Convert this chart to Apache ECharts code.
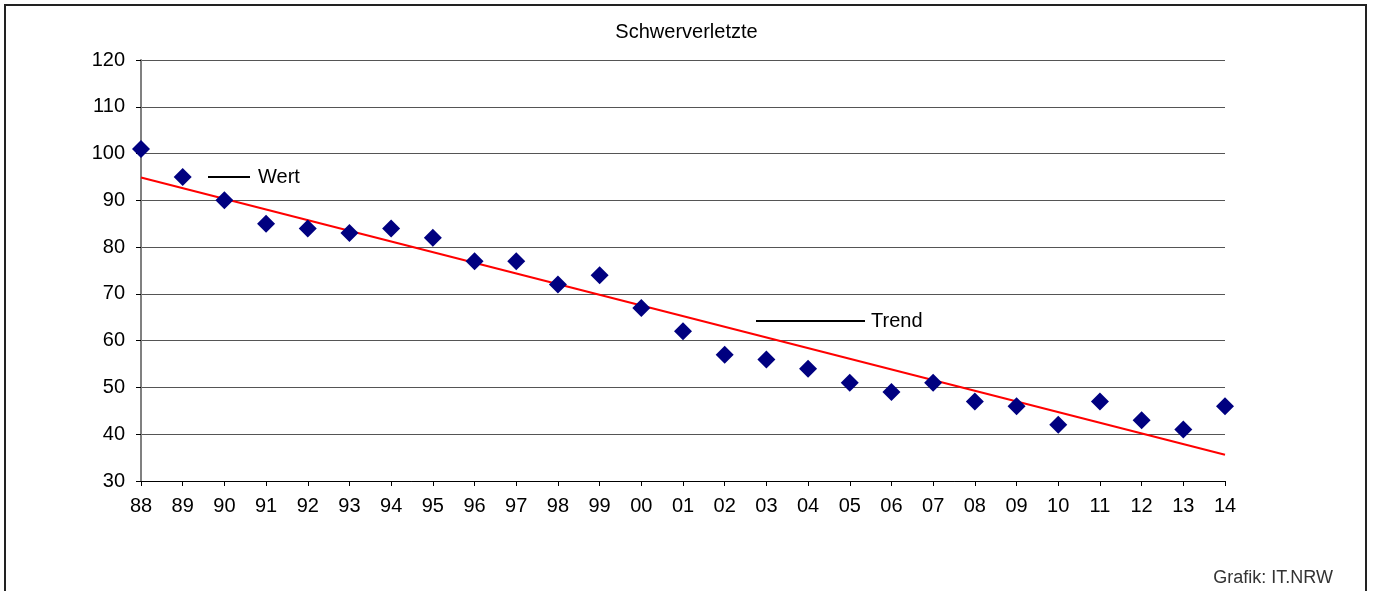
<!DOCTYPE html>
<html>
<head>
<meta charset="utf-8">
<script src="https://cdn.jsdelivr.net/npm/echarts@6/dist/echarts.min.js"></script>
<style>
html,body{margin:0;padding:0;background:#fff;}
#chart{width:1373px;height:591px;}
</style>
</head>
<body>
<div id="chart"></div>
<script>
var years = ['88','89','90','91','92','93','94','95','96','97','98','99','00','01','02','03','04','05','06','07','08','09','10','11','12','13','14'];
var wert = [101,95,90,85,84,83,84,82,77,77,72,74,67,62,57,56,54,51,49,51,47,46,42,47,43,41,46];
var trendYears = ['88','14'];
var trendValues = [94.9,35.6];
var yTicks = {min:30, max:120, interval:10};
var titleText = 'Schwerverletzte';
var sourceText = 'Grafik: IT.NRW';

var FONT = 'Arial, "Liberation Sans", sans-serif';
var chart = echarts.init(document.getElementById('chart'), null, {renderer:'canvas'});
chart.setOption({
  animation:false,
  backgroundColor:'#fff',
  textStyle:{fontFamily:FONT},
  title:[{
    text:titleText, left:'center', top:17,
    textStyle:{fontFamily:FONT, fontSize:20, fontWeight:'normal', color:'#000'}
  },{
    text:sourceText, right:35, top:564,
    textStyle:{fontFamily:FONT, fontSize:18, fontWeight:'normal', color:'#333'}
  }],
  legend:[{
    left:208, top:167, padding:0, selectedMode:false,
    itemWidth:42, itemHeight:2, icon:'rect',
    textStyle:{fontFamily:FONT, fontSize:20, color:'#000', padding:[0,0,0,3]},
    data:[{name:'Wert', itemStyle:{color:'#000'}}]
  },{
    left:756, top:311, padding:0, selectedMode:false,
    itemWidth:109, itemHeight:2, icon:'rect',
    textStyle:{fontFamily:FONT, fontSize:20, color:'#000', padding:[0,0,0,1]},
    data:[{name:'Trend', itemStyle:{color:'#000'}}]
  }],
  grid:{left:141, right:148, top:60, bottom:110, containLabel:false},
  xAxis:{
    type:'category', data:years, boundaryGap:false,
    axisLine:{lineStyle:{color:'#000', width:1}},
    axisTick:{show:true, length:5, alignWithLabel:true, lineStyle:{color:'#000'}},
    axisLabel:{fontFamily:FONT, fontSize:20, color:'#000', margin:15, interval:0},
    splitLine:{show:false}
  },
  yAxis:{
    type:'value', min:yTicks.min, max:yTicks.max, interval:yTicks.interval,
    axisLine:{show:true, lineStyle:{color:'#808080', width:2}},
    axisTick:{show:true, length:5, lineStyle:{color:'#000'}},
    axisLabel:{fontFamily:FONT, fontSize:20, color:'#000', margin:16},
    splitLine:{show:true, lineStyle:{color:'#555', width:1}}
  },
  series:[{
    name:'Trend', type:'line',
    data:trendYears.map(function(y,i){return [y, trendValues[i]];}),
    symbol:'none', lineStyle:{color:'#ff0000', width:2}, z:2
  },{
    name:'Wert', type:'scatter', data:wert,
    symbol:'diamond', symbolSize:[18,18],
    itemStyle:{color:'#000080', opacity:1}, z:3
  }],
  graphic:[{
    type:'rect', silent:true, z:100,
    shape:{x:5, y:5, width:1361, height:620},
    style:{fill:'none', stroke:'#222', lineWidth:2}
  }]
});
</script>
</body>
</html>
